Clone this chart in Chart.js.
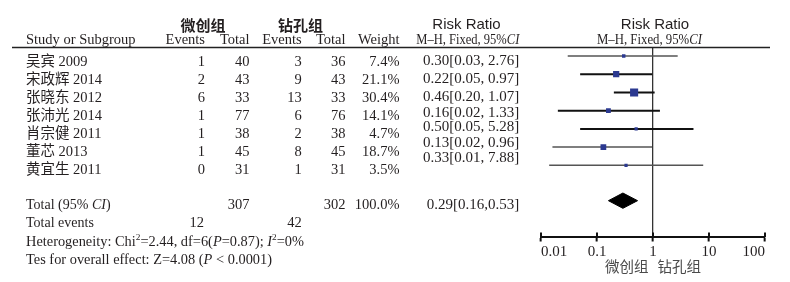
<!DOCTYPE html>
<html><head><meta charset="utf-8">
<script src="https://cdn.jsdelivr.net/npm/chart.js@4/dist/chart.umd.min.js"></script>
<style>html,body{margin:0;padding:0;background:#fff;}canvas{display:block}</style>
</head><body>
<canvas id="c" width="790" height="282"></canvas>
<script>
// ---------------- data ----------------
const studies = ['吴宾 2009','宋政辉 2014','张晓东 2012','张沛光 2014','肖宗健 2011','董芯 2013','黄宜生 2011'];
const expEvents = [1,2,6,1,1,1,0];
const expTotal = [40,43,33,77,38,45,31];
const ctrlEvents = [3,9,13,6,2,8,1];
const ctrlTotal = [36,43,33,76,38,45,31];
const weights = [7.4,21.1,30.4,14.1,4.7,18.7,3.5];
const riskRatio = [0.30,0.22,0.46,0.16,0.50,0.13,0.33];
const ciLow = [0.03,0.05,0.20,0.02,0.05,0.016,0.014];
const ciHigh = [2.76,0.97,1.07,1.33,5.28,0.96,7.88];
const pooledRR = [0.29];
const pooledCI = [0.16,0.53];
const totalWeight = [100.0];
const groupTotals = [307,302];
const groupEvents = [12,42];
const xTickValues = [0.01,0.1,1,10,100];
const groupNames = ['微创组','钻孔组'];

// ---------------- layout / style ----------------
const TXT = '#231f20';
const SERIF = '"Liberation Serif","Noto Sans CJK SC",serif';
const SANS = '"Liberation Sans",Arial,sans-serif';
const CJK = '"Noto Sans CJK SC",sans-serif';
const POOLED_ROW = 7.94;
const DIAMOND_HALF = 0.42;
const ciColors = ['#555','#111','#111','#111','#111','#555','#555'];
const ciWidths = [1.3,2,2,2,2,1.5,1.5];
const markerSide = w => Math.max(3.2, 2 + 0.2*w);

const datasets = [];
datasets.push({
  label:'markers', order:0,
  data: riskRatio.map((v,i)=>({x:v,y:i})),
  pointStyle:'rect',
  pointRadius: weights.map(w=>markerSide(w)/Math.SQRT2),
  backgroundColor:'#2b3990', borderWidth:0, showLine:false
});
riskRatio.forEach((v,i)=>{
  datasets.push({
    label:'ci'+i, order:2, showLine:true,
    data:[{x:ciLow[i],y:i},{x:ciHigh[i],y:i}],
    borderColor:ciColors[i], borderWidth:ciWidths[i], pointRadius:0
  });
});
datasets.push({
  label:'pooled', order:1, showLine:true, fill:'shape', tension:0,
  data:[{x:pooledCI[0],y:POOLED_ROW},{x:pooledRR[0],y:POOLED_ROW-DIAMOND_HALF},
        {x:pooledCI[1],y:POOLED_ROW},{x:pooledRR[0],y:POOLED_ROW+DIAMOND_HALF},
        {x:pooledCI[0],y:POOLED_ROW}],
  borderColor:'#000', backgroundColor:'#000', borderWidth:1, pointRadius:0
});

function fontStr(size, italic, bold, fam){
  return (italic?'italic ':'')+(bold?'bold ':'')+size+'px '+(fam||SERIF);
}
function drawRich(ctx, parts, x, y, size, align, targetW, fam){
  let widths = parts.map(p=>{
    ctx.font = fontStr(p.sup?size*0.65:size, p.i, false, fam);
    return ctx.measureText(p.t).width;
  });
  let total = widths.reduce((a,b)=>a+b,0);
  let sx = targetW ? targetW/total : 1;
  let w = total*sx;
  let x0 = align==='right' ? x-w : align==='center' ? x-w/2 : x;
  ctx.save();
  ctx.translate(x0, y);
  ctx.scale(sx,1);
  ctx.textAlign='left';
  ctx.textBaseline='middle';
  let cx = 0;
  parts.forEach((p,k)=>{
    ctx.font = fontStr(p.sup?size*0.65:size, p.i, false, fam);
    ctx.fillText(p.t, cx, p.sup ? -size*0.35 : 0);
    cx += widths[k];
  });
  ctx.restore();
}
function txt(ctx, s, x, y, align, font){
  ctx.font = font; ctx.textAlign = align; ctx.textBaseline='middle';
  ctx.fillText(s, x, y);
}

const tablePlugin = {
  id:'table',
  afterDraw(chart){
    const ctx = chart.ctx;
    const xs = chart.scales.x;
    const area = chart.chartArea;
    ctx.save();
    ctx.fillStyle = TXT;
    ctx.strokeStyle = '#222'; ctx.lineWidth = 1.5;
    ctx.beginPath(); ctx.moveTo(12, area.top); ctx.lineTo(770, area.top); ctx.stroke();
    ctx.strokeStyle = '#111'; ctx.lineWidth = 2;
    xTickValues.forEach(v=>{
      const px = xs.getPixelForValue(v);
      ctx.beginPath(); ctx.moveTo(px, area.bottom-4.5); ctx.lineTo(px, area.bottom); ctx.stroke();
    });
    const hF = fontStr(15,false,true,CJK);
    txt(ctx, groupNames[0], 203, 25, 'center', hF);
    txt(ctx, groupNames[1], 300.5, 25, 'center', hF);
    txt(ctx, 'Risk Ratio', 466.5, 25, 'center', '15px '+SANS);
    txt(ctx, 'Risk Ratio', 655, 25, 'center', '15px '+SANS);
    const F = fontStr(14.5);
    txt(ctx, 'Study or Subgroup', 26, 40, 'left', F);
    txt(ctx, 'Events', 205, 40, 'right', F);
    txt(ctx, 'Total', 249.5, 40, 'right', F);
    txt(ctx, 'Events', 301.7, 40, 'right', F);
    txt(ctx, 'Total', 345.5, 40, 'right', F);
    txt(ctx, 'Weight', 399.5, 40, 'right', F);
    const mh = [{t:'M–H, Fixed, 95%'},{t:'CI',i:true}];
    drawRich(ctx, mh, 519.3, 40, 15, 'right', 103);
    drawRich(ctx, mh, 649.5, 40, 15, 'center', 105);
    const rrY = [61.5, 79.5, 97.3, 112.8, 127.3, 143.2, 158.2];
    studies.forEach((s,i)=>{
      const y = 62 + i*18.1;
      txt(ctx, s, 26, y, 'left', F);
      txt(ctx, String(expEvents[i]), 205, y, 'right', F);
      txt(ctx, String(expTotal[i]), 249.5, y, 'right', F);
      txt(ctx, String(ctrlEvents[i]), 301.7, y, 'right', F);
      txt(ctx, String(ctrlTotal[i]), 345.5, y, 'right', F);
      txt(ctx, weights[i].toFixed(1)+'%', 399.5, y, 'right', F);
      txt(ctx, riskRatio[i].toFixed(2)+'['+ciLow[i].toFixed(2)+', '+ciHigh[i].toFixed(2)+']', 519.3, rrY[i], 'right', fontStr(15));
    });
    const F14 = fontStr(14);
    drawRich(ctx, [{t:'Total (95% '},{t:'CI',i:true},{t:')'}], 26, 205.5, 14, 'left');
    txt(ctx, String(groupTotals[0]), 249.5, 205.5, 'right', F);
    txt(ctx, String(groupTotals[1]), 345.5, 205.5, 'right', F);
    txt(ctx, totalWeight[0].toFixed(1)+'%', 399.5, 205.5, 'right', F);
    txt(ctx, pooledRR[0].toFixed(2)+'['+pooledCI[0].toFixed(2)+','+pooledCI[1].toFixed(2)+']', 519.3, 205.5, 'right', fontStr(15));
    txt(ctx, 'Total events', 26, 223.5, 'left', F14);
    txt(ctx, String(groupEvents[0]), 204, 223.5, 'right', F);
    txt(ctx, String(groupEvents[1]), 301.7, 223.5, 'right', F);
    drawRich(ctx, [{t:'Heterogeneity: Chi'},{t:'2',sup:true},{t:'=2.44, df=6('},{t:'P',i:true},{t:'=0.87); '},{t:'I',i:true},{t:'2',sup:true},{t:'=0%'}], 26, 242.5, 14, 'left', 278);
    drawRich(ctx, [{t:'Tes for overall effect: Z=4.08 ('},{t:'P',i:true},{t:' < 0.0001)'}], 26, 260.3, 14, 'left', 246);
    const x1 = xs.getPixelForValue(1);
    ctx.fillStyle = '#4a4a4a';
    txt(ctx, groupNames[0], x1-4.5, 266.7, 'right', '14.5px '+CJK);
    txt(ctx, groupNames[1], x1+4.5, 266.7, 'left', '14.5px '+CJK);
    ctx.restore();
  }
};

new Chart(document.getElementById('c'), {
  type:'scatter',
  data:{datasets},
  options:{
    responsive:false, animation:false, events:[],
    layout:{padding:{left:541,right:25,top:47.5,bottom:0}},
    plugins:{legend:{display:false},tooltip:{enabled:false}},
    scales:{
      x:{
        type:'logarithmic', min:0.01, max:100, position:'bottom',
        afterBuildTicks(scale){ scale.ticks = xTickValues.map(v=>({value:v, major:true})); },
        afterFit(scale){ scale.height = 45; },
        ticks:{
          align:'inner', autoSkip:false, maxRotation:0, padding:2, color:TXT,
          font:{family:SERIF,size:15},
          callback:(v)=>String(Number(v))
        },
        grid:{
          drawOnChartArea:true, drawTicks:true, tickLength:4.5,
          color:(c)=> (c.tick && c.tick.value===1) ? '#333' : 'rgba(0,0,0,0)',
          lineWidth:1.3, tickColor:'#111', tickWidth:2
        },
        border:{display:true, color:'#111', width:2}
      },
      y:{
        type:'linear', reverse:true, min:-0.4665, max:9.934, display:false
      }
    }
  },
  plugins:[tablePlugin]
});
</script>
</body></html>
